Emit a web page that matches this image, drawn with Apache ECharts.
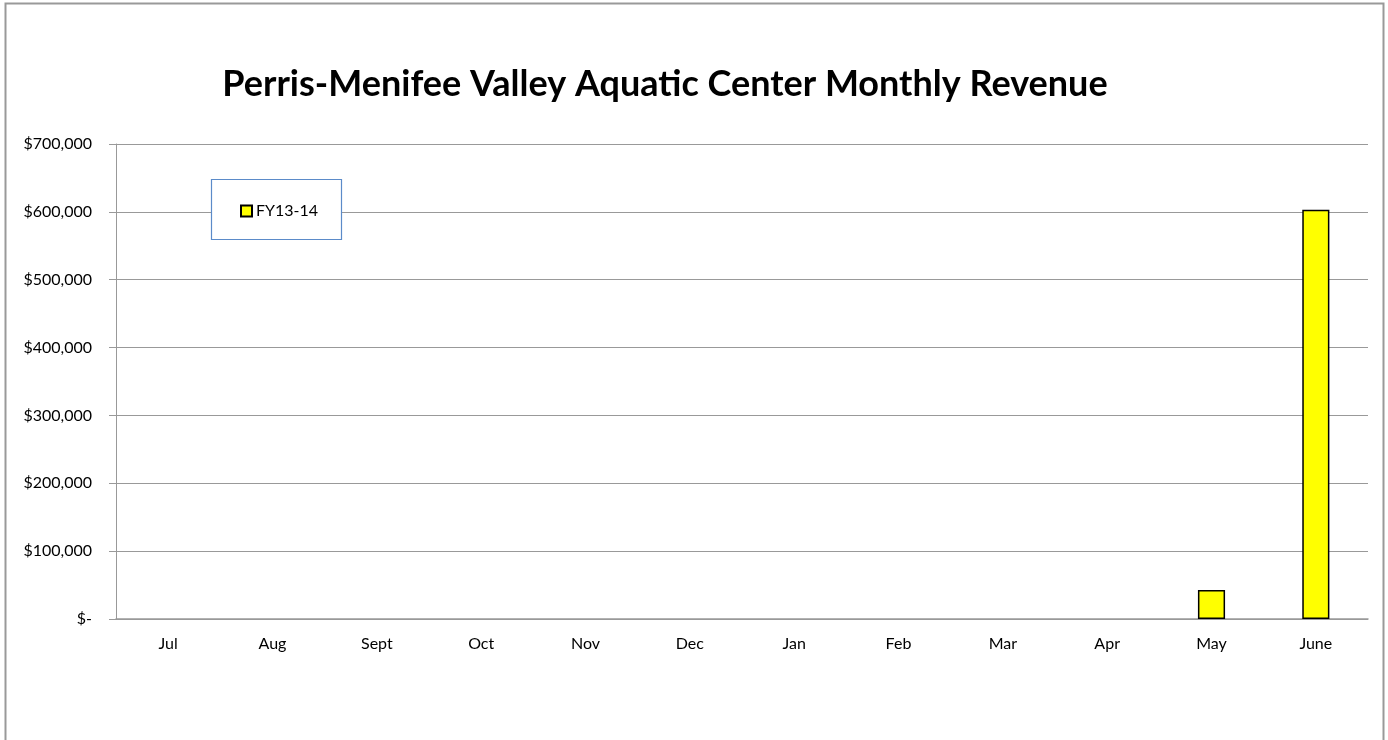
<!DOCTYPE html>
<html>
<head>
<meta charset="utf-8">
<script src="https://cdn.jsdelivr.net/npm/echarts@6/dist/echarts.min.js"></script>
<style>
  html, body { margin: 0; padding: 0; background: #fff; }
  #chart { width: 1388px; height: 740px; }
</style>
</head>
<body>
<div id="chart"></div>
<script>
// 月份与收入数据
const months = ["Jul", "Aug", "Sept", "Oct", "Nov", "Dec", "Jan", "Feb", "Mar", "Apr", "May", "June"];
const revenue = [null, null, null, null, null, null, null, null, null, null, 42700, 603000];
const seriesName = "FY13-14";

const chart = echarts.init(document.getElementById("chart"));

const fmt = (v) => (v === 0 ? "$-" : "$" + v.toLocaleString("en-US"));

chart.setOption({
  animation: false,
  title: {
    text: "Perris-Menifee Valley Aquatic Center Monthly Revenue",
    left: 660,
    top: 61,
    textAlign: "center",
    textStyle: { fontFamily: "Lato", fontSize: 36, fontWeight: "bold", color: "#000" },
  },
  graphic: [
    {
      type: "rect",
      shape: { x: 5.5, y: 3.5, width: 1378, height: 760 },
      style: { fill: null, stroke: "#999", lineWidth: 2 },
      silent: true,
    },
    {
      type: "rect",
      shape: { x: 211.5, y: 179.5, width: 130, height: 60 },
      style: { fill: "#fff", stroke: "#5b8bc9", lineWidth: 1.2 },
      z: 5,
    },
  ],
  legend: {
    left: 240,
    top: 203,
    padding: 0,
    itemWidth: 11,
    itemHeight: 11,
    itemGap: 4,
    z: 10,
    textStyle: { fontFamily: "Lato", fontSize: 16, color: "#000", padding: [0, 0, 0, -1] },
    data: [{ name: seriesName, icon: "rect" }],
  },
  grid: { left: 116, right: 20, top: 144, bottom: 121, containLabel: false },
  xAxis: {
    type: "category",
    data: months,
    axisLine: { lineStyle: { color: "#999", width: 1.5 } },
    axisTick: { show: false },
    axisLabel: { color: "#000", fontFamily: "Lato", fontSize: 16, margin: 17 },
  },
  yAxis: {
    type: "value",
    min: 0,
    max: 700000,
    interval: 100000,
    axisLine: { show: true, lineStyle: { color: "#999" } },
    axisTick: { show: true, length: 7, lineStyle: { color: "#999" } },
    splitLine: { lineStyle: { color: "#999" } },
    axisLabel: { color: "#000", fontFamily: "Lato", fontSize: 16, margin: 24, formatter: fmt },
  },
  series: [
    {
      name: seriesName,
      type: "bar",
      data: revenue,
      barWidth: "26%",
      itemStyle: { color: "#ffff00", borderColor: "#000", borderWidth: 1.5 },
    },
  ],
});
</script>
</body>
</html>
